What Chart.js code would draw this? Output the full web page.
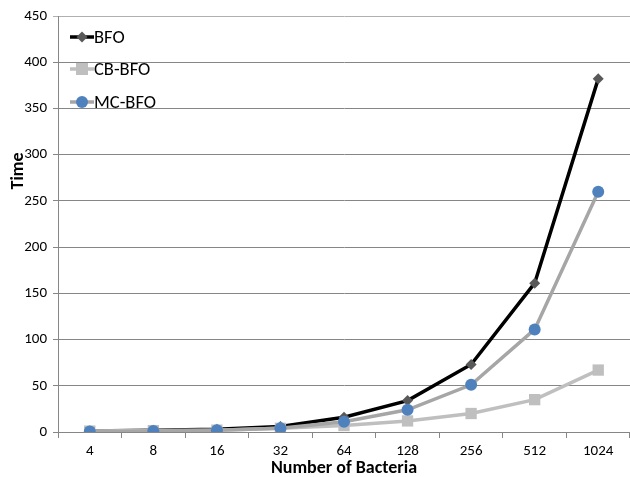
<!DOCTYPE html>
<html>
<head>
<meta charset="utf-8">
<script src="https://cdn.jsdelivr.net/npm/chart.js@4/dist/chart.umd.min.js"></script>
<style>
  html, body { margin:0; padding:0; background:#fff; }
</style>
</head>
<body>
<canvas id="graphique" width="630" height="477"></canvas>
<script>
const categories = ["4", "8", "16", "32", "64", "128", "256", "512", "1024"];
const bfo   = [1, 2, 3, 6, 16, 34, 73, 161, 382];
const cbBfo = [1, 1.5, 2, 4, 7, 12, 20, 35, 67];
const mcBfo = [0.5, 1, 2, 4, 11, 24, 51, 111, 260];
const nomsSeries = ["BFO", "CB-BFO", "MC-BFO"];

const police = "Carlito, 'Open Sans', 'Liberation Sans', sans-serif";

// legende dessinee dans la zone du graphique, en haut a gauche
const legendeInterne = {
  id: "legendeInterne",
  afterDraw(chart) {
    const ctx = chart.ctx;
    const x0 = 70, ys = [37, 69, 102];
    chart.data.datasets.forEach((ds, i) => {
      const y = ys[i];
      ctx.save();
      ctx.strokeStyle = ds.borderColor;
      ctx.lineWidth = ds.borderWidth;
      ctx.beginPath(); ctx.moveTo(x0, y); ctx.lineTo(x0 + 24, y); ctx.stroke();
      ctx.fillStyle = ds.pointBackgroundColor;
      const cx = x0 + 12, r = ds.pointRadius;
      ctx.beginPath();
      if (ds.pointStyle === "rectRot") {
        ctx.moveTo(cx, y - r); ctx.lineTo(cx + r, y); ctx.lineTo(cx, y + r); ctx.lineTo(cx - r, y);
      } else if (ds.pointStyle === "rect") {
        ctx.rect(cx - r * 0.75, y - r * 0.75, r * 1.5, r * 1.5);
      } else {
        ctx.arc(cx, y, r, 0, Math.PI * 2);
      }
      ctx.fill();
      ctx.fillStyle = "#000";
      ctx.font = "18.5px " + police;
      ctx.textBaseline = "middle";
      ctx.fillText(ds.label, x0 + 24, y + 1);
      ctx.restore();
    });
    // titre de l'axe Y
    ctx.save();
    ctx.translate(18, 171);
    ctx.rotate(-Math.PI / 2);
    ctx.font = "bold 18px " + police;
    ctx.fillStyle = "#000";
    ctx.textAlign = "center";
    ctx.textBaseline = "middle";
    ctx.fillText("Time", 0, 0);
    ctx.restore();
  }
};

new Chart(document.getElementById("graphique"), {
  type: "line",
  data: {
    labels: categories,
    datasets: [
      {
        label: nomsSeries[0], data: bfo, order: 3,
        borderColor: "#000000", borderWidth: 3.5,
        pointStyle: "rectRot", pointRadius: 5.5, pointBackgroundColor: "#595959", pointBorderWidth: 0
      },
      {
        label: nomsSeries[1], data: cbBfo, order: 2,
        borderColor: "#BFBFBF", borderWidth: 3.5,
        pointStyle: "rect", pointRadius: 8, pointBackgroundColor: "#BFBFBF", pointBorderWidth: 0
      },
      {
        label: nomsSeries[2], data: mcBfo, order: 1,
        borderColor: "#A6A6A6", borderWidth: 3.5,
        pointStyle: "circle", pointRadius: 6, pointBackgroundColor: "#4F81BD", pointBorderWidth: 0
      }
    ]
  },
  options: {
    responsive: false,
    animation: false,
    devicePixelRatio: 1,
    layout: { autoPadding: false, padding: { left: 0, right: 0, top: 16, bottom: 0 } },
    plugins: { legend: { display: false }, tooltip: { enabled: false } },
    scales: {
      x: {
        offset: true,
        afterFit: (s) => { s.height = 45; },
        grid: { offset: true, drawOnChartArea: false, color: "#868686", tickLength: 6, tickWidth: 1 },
        border: { color: "#868686", width: 1 },
        ticks: { color: "#000", font: { family: police, size: 15 }, padding: 4, maxRotation: 0 },
        title: { display: true, text: "Number of Bacteria", color: "#000", font: { family: police, size: 18, weight: "bold", lineHeight: 1 }, padding: { top: 0, bottom: 0 } }
      },
      y: {
        min: 0, max: 450,
        afterFit: (s) => { s.width = 58; },
        ticks: { stepSize: 50, color: "#000", font: { family: police, size: 15 }, padding: 6 },
        grid: { color: (c) => c.index === 9 ? "#B0B0B0" : "#868686", tickLength: 5, lineWidth: 1 },
        border: { color: "#868686", width: 1 }
      }
    }
  },
  plugins: [legendeInterne]
});
</script>
</body>
</html>
